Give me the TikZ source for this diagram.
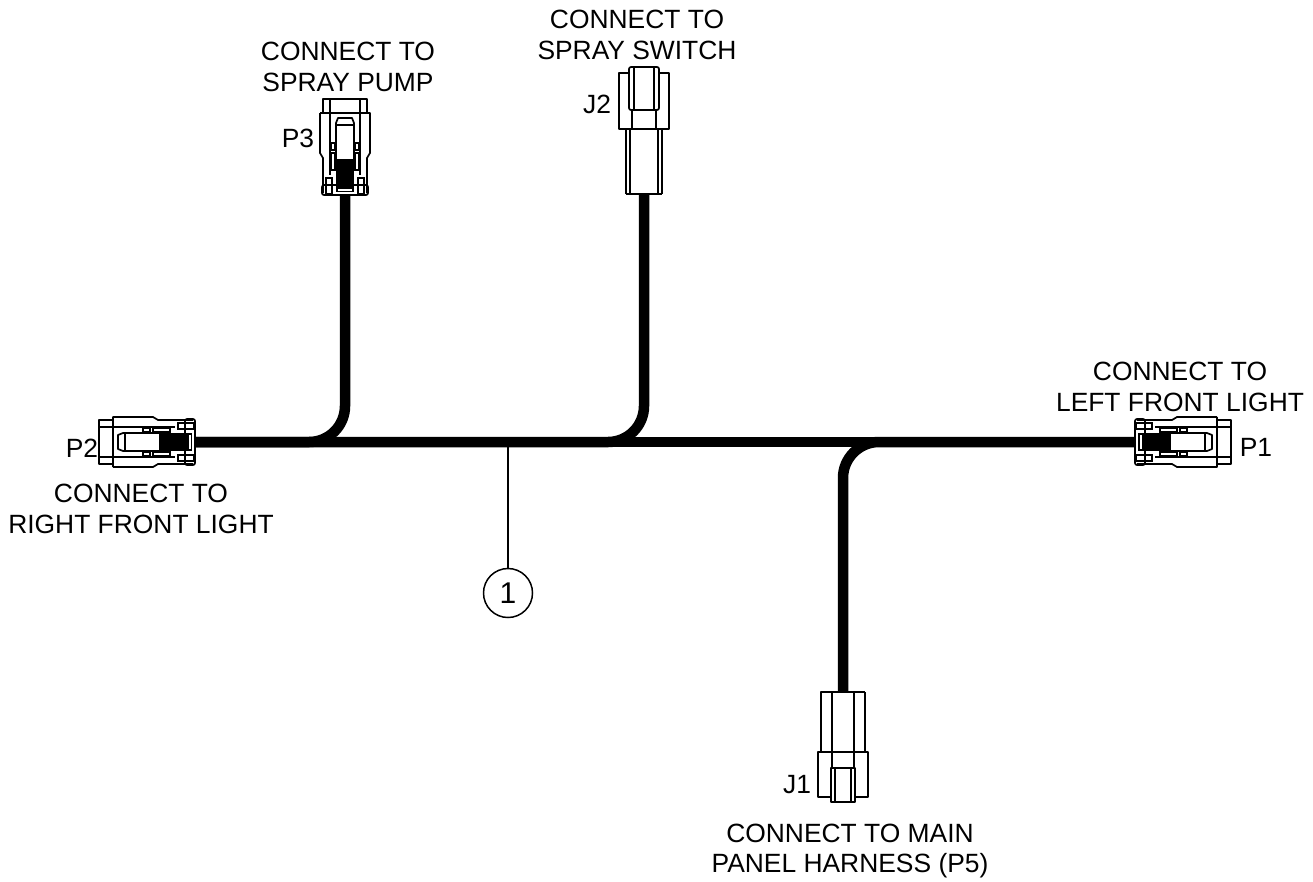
\documentclass[tikz,border=0pt]{standalone}
\usepackage{fontspec}
\setmainfont{Liberation Sans}

\begin{document}
\begin{tikzpicture}[x=1pt,y=-1pt]
        \tikzset{label/.style = {align=center,font=\fontsize{26.4}{30.5}\selectfont,inner sep=0pt}}
        \tikzset{wire/.style = {line width=10.5pt,rounded corners=36pt}}
        \tikzset{part/.style = {line width=1.7pt,line join=round}}
        \tikzset{fine/.style = {line width=1.2pt}}
        \tikzset{leader/.style = {line width=1.2pt}}
        \tikzset{balloon/.style = {shape=circle,draw,line width=1.5pt,minimum size=49pt,inner sep=0pt}}
        \tikzset{plug/.pic = {
            \draw[part] (-25,-82) -- (25,-82) -- (25,-42) -- (22,-37) -- (22,-2);
            \draw[part] (-25,-82) -- (-25,-42) -- (-22,-37) -- (-22,-2);
            \draw[part] (-22,-82) -- (-22,-96) -- (22,-96) -- (22,-82);
            \draw[part] (-15,-96) -- (-15,-20);
            \draw[part] (15,-96) -- (15,-20);
            \draw[part] (-9,-33) -- (-9,-72) -- (-7,-77) -- (7,-77) -- (9,-72) -- (9,-33);
            \draw[fine] (-8,-70) -- (8,-70);
            \fill (-9,-36) rectangle (9,-3);
            \fill[white] (-7,-6.5) rectangle (7,-4.5);
            \foreach \side in {-1,1} {
                \draw[fine] (\side*14,-52) rectangle (\side*10,-45);
                \draw[fine,fill=white] (\side*14,-42) rectangle (\side*10,-25);
                \draw[fine] (\side*19,-17) rectangle (\side*13,-1);
            }
            \draw[part,rounded corners=2pt] (-23,-10) rectangle (23,0);
        }}
        \tikzset{socket/.pic = {
            \draw[part] (-18,0) -- (-18,-66);
            \draw[part] (18,0) -- (18,-66);
            \draw[part] (-18,0) -- (18,0);
            \draw[part] (-14,0) -- (-14,-66);
            \draw[part] (14,0) -- (14,-66);
            \draw[part] (-25,-121) rectangle (25,-65);
            \draw[part] (-12,-84) -- (-12,-65);
            \draw[part] (12,-84) -- (12,-65);
            \draw[part,fill=white,rounded corners=2pt] (-15,-84) rectangle (15,-127);
            \draw[part] (-10,-84) -- (-10,-127);
            \draw[part] (10,-84) -- (10,-127);
        }}
        \tikzset{header/.pic = {
            \draw[part] (-22,0) -- (22,0) -- (22,-60);
            \draw[part] (-22,0) -- (-22,-60);
            \draw[part] (-11,0) -- (-11,-76);
            \draw[part] (11,0) -- (11,-76);
            \draw[part] (-25,-60) rectangle (25,-105);
            \draw[part,fill=white] (-12,-76) rectangle (12,-110);
            \draw[fine] (-8,-76) -- (-8,-110);
            \draw[fine] (8,-76) -- (8,-110);
        }}
        \useasboundingbox (0,0) rectangle (1313,881);
        % wire ends
        \coordinate (p1) at (1135,442);
        \coordinate (p2) at (195,442);
        \coordinate (p3) at (345,195);
        \coordinate (j1) at (843,692);
        \coordinate (j2) at (644,194);
        \coordinate (tap) at (508,442);
        % wires
        \draw[wire] (p2) -- (p1);
        \draw[wire] (p3) |- (p2);
        \draw[wire] (j2) |- (p2);
        \draw[wire] (j1) |- (p1);
        % connectors
        \pic[rotate=-90] at (p1) {plug};
        \pic[rotate=90] at (p2) {plug};
        \pic at (p3) {plug};
        \pic[rotate=180] at (j1) {header};
        \pic at (j2) {socket};
        % balloon
        \node[balloon] (item) at (508,593) {\fontsize{30}{30}\selectfont 1};
        \draw[leader] (tap) -- (item);
        % labels
        \node[label] (namep1) at (1256,447) {P1};
        \node[label] (namep2) at (82,448) {P2};
        \node[label] (namep3) at (298,138) {P3};
        \node[label] (namej1) at (797,785) {J1};
        \node[label] (namej2) at (597,104) {J2};
        \node[label] (textp1) at (1180,387) {CONNECT TO\\LEFT FRONT LIGHT};
        \node[label] (textp2) at (141,509) {CONNECT TO\\RIGHT FRONT LIGHT};
        \node[label] (textp3) at (348,67) {CONNECT TO\\SPRAY PUMP};
        \node[label] (textj1) at (850,851) {CONNECT TO MAIN\\PANEL HARNESS (P5)};
        \node[label] (textj2) at (637,35) {CONNECT TO\\SPRAY SWITCH};
\end{tikzpicture}
\end{document}
